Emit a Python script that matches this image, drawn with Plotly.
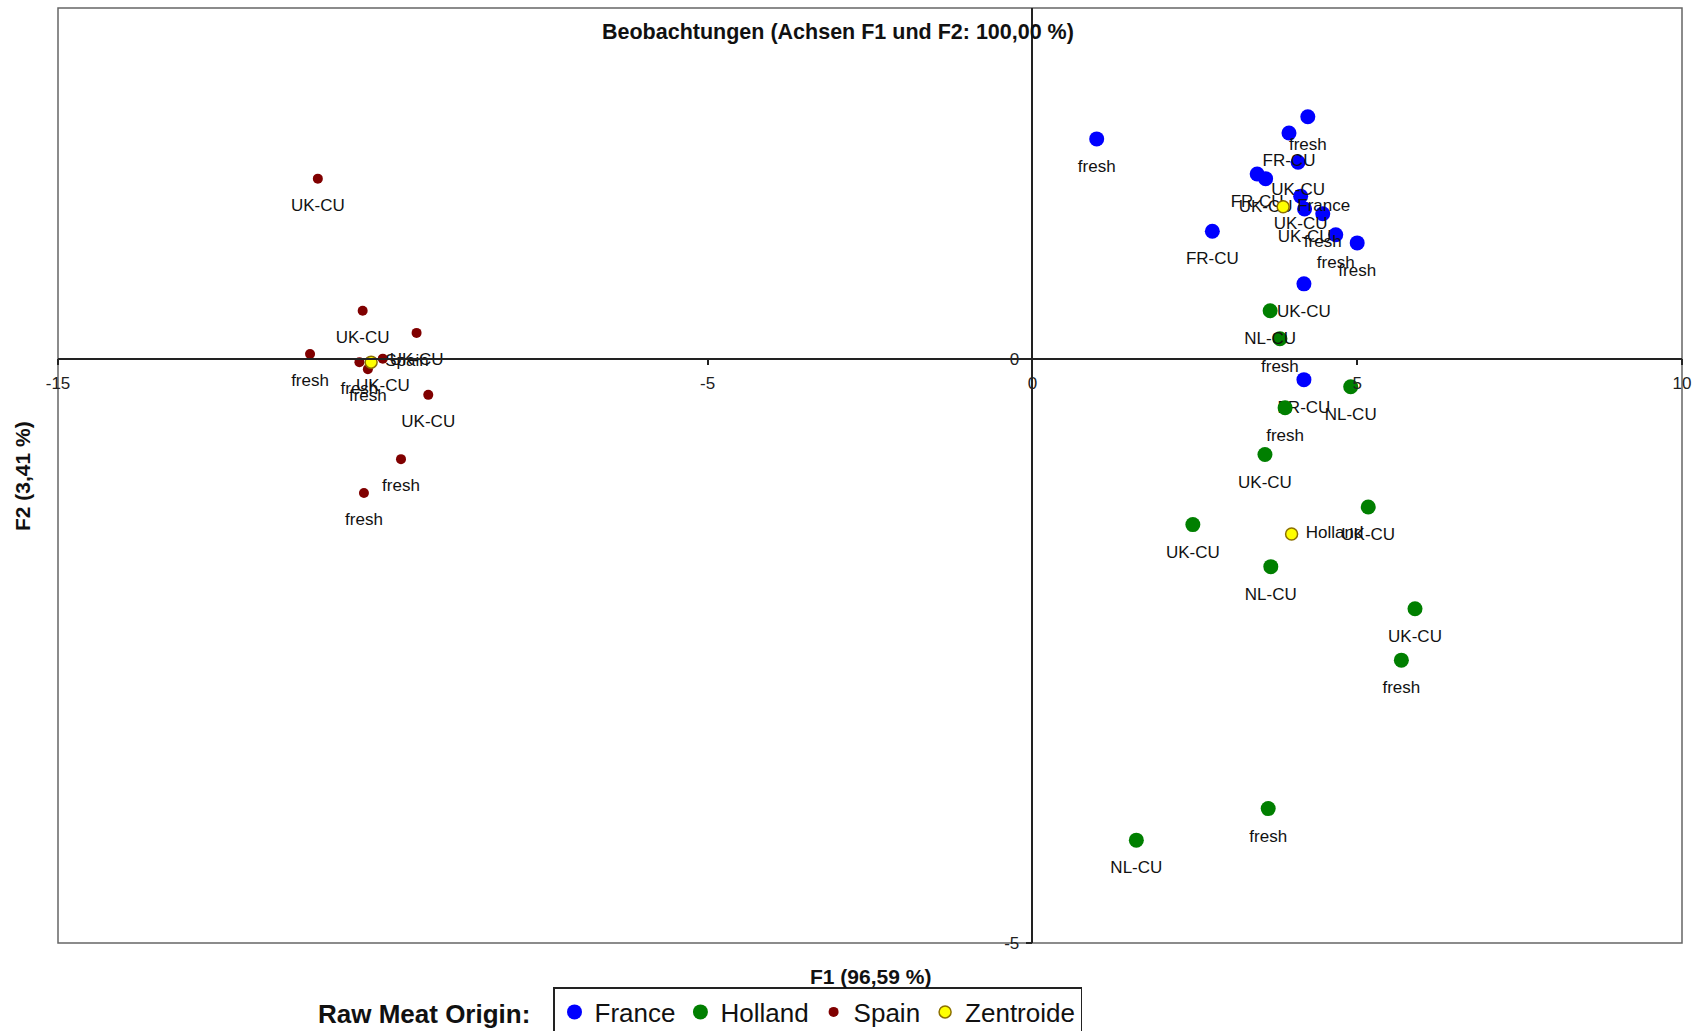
import plotly.graph_objects as go

# F1 / F2 scores of the observations, grouped by raw meat origin
france_f1 = [0.99, 4.24, 3.95, 4.09, 3.46, 3.59, 4.13, 4.19, 4.47, 4.67, 5.00, 2.77, 4.18, 4.18]
france_f2 = [1.88, 2.07, 1.93, 1.68, 1.58, 1.54, 1.39, 1.28, 1.24, 1.06, 0.99, 1.09, 0.64, -0.18]
france_lab = ["fresh", "fresh", "FR-CU", "UK-CU", "FR-CU", "UK-CU", "UK-CU", "UK-CU",
              "fresh", "fresh", "fresh", "FR-CU", "UK-CU", "FR-CU"]

holland_f1 = [3.66, 3.81, 4.90, 3.89, 3.58, 5.17, 2.47, 3.67, 5.89, 5.68, 3.63, 1.60]
holland_f2 = [0.41, 0.17, -0.24, -0.42, -0.82, -1.27, -1.42, -1.78, -2.14, -2.58, -3.85, -4.12]
holland_lab = ["NL-CU", "fresh", "NL-CU", "fresh", "UK-CU", "UK-CU", "UK-CU", "NL-CU",
               "UK-CU", "fresh", "fresh", "NL-CU"]

spain_f1 = [-11.00, -10.31, -9.48, -11.12, -10.36, -10.23, -10.00, -9.30, -9.72, -10.29]
spain_f2 = [1.54, 0.41, 0.22, 0.04, -0.03, -0.09, 0.00, -0.31, -0.86, -1.15]
spain_lab = ["UK-CU", "UK-CU", "UK-CU", "fresh", "fresh", "fresh", "UK-CU", "UK-CU",
             "fresh", "fresh"]

# group centroids
centroid_f1 = [3.86, 3.99, -10.18]
centroid_f2 = [1.30, -1.50, -0.03]
centroid_lab = ["France", "Holland", "Spain"]

x_tick_vals = [-15, -5, 0, 5, 10]
x_tick_text = ["-15", "-5", "0", "5", "10"]
y_tick_vals = [-5, 0]
y_tick_text = ["-5", "0"]

X_RANGE = [-15, 10]
Y_RANGE = [-5, 3]

FONT = "Liberation Sans, Arial, Helvetica, sans-serif"
INK = "#111111"
label_font = dict(family=FONT, size=17, color=INK)

# layout geometry (pixels)
W, H = 1695, 1031
M_L, M_R, M_T, M_B = 58, 13, 8, 0
PLOT_BOTTOM = 943
paper_h = H - M_T - M_B
paper_w = W - M_L - M_R


def py(px_from_top):
    """paper y fraction for a pixel row"""
    return (H - M_B - px_from_top) / paper_h


def px(px_from_left):
    """paper x fraction for a pixel column"""
    return (px_from_left - M_L) / paper_w


y_dom_lo = py(PLOT_BOTTOM)
plot_top = M_T
# where the value 0 falls along each axis, as paper fractions (crossing axes)
zero_y_px = plot_top + (PLOT_BOTTOM - plot_top) * (Y_RANGE[1] - 0) / (Y_RANGE[1] - Y_RANGE[0])
x_axis_pos = py(zero_y_px)
y_axis_pos = (0 - X_RANGE[0]) / (X_RANGE[1] - X_RANGE[0])

fig = go.Figure()


def group(name, xs, ys, labels, color, size, pos, pad_size):
    # visible markers (legend entry)
    fig.add_trace(go.Scatter(
        x=xs, y=ys, name=name, mode="markers",
        marker=dict(color=color, size=size, line=dict(width=0)),
        hoverinfo="skip", cliponaxis=False,
    ))
    # point labels, spaced from the points by an invisible marker
    fig.add_trace(go.Scatter(
        x=xs, y=ys, text=labels, mode="markers+text", textposition=pos,
        textfont=label_font, showlegend=False, hoverinfo="skip",
        marker=dict(size=pad_size, opacity=0), cliponaxis=False,
    ))


group("France", france_f1, france_f2, france_lab, "#0000FF", 15, "bottom center", 31)
group("Holland", holland_f1, holland_f2, holland_lab, "#007F00", 15, "bottom center", 31)
group("Spain", spain_f1, spain_f2, spain_lab, "#800000", 10, "bottom center", 29)

fig.add_trace(go.Scatter(
    x=centroid_f1, y=centroid_f2, name="Zentroide", mode="markers",
    marker=dict(color="#FFFF00", size=12, line=dict(color="#8C7000", width=1.5)),
    hoverinfo="skip", cliponaxis=False,
))
fig.add_trace(go.Scatter(
    x=centroid_f1, y=centroid_f2, text=centroid_lab, mode="markers+text",
    textposition="middle right", textfont=label_font, showlegend=False,
    hoverinfo="skip", marker=dict(size=21, opacity=0), cliponaxis=False,
))

axis_common = dict(
    showgrid=False, zeroline=False, showline=True,
    linecolor="#222222", linewidth=1.5,
    ticks="outside", ticklen=6, tickcolor="#222222", tickwidth=1.5,
    tickfont=dict(family=FONT, size=17, color="#222222"),
    ticklabelstandoff=3,
    anchor="free",
)

fig.update_layout(
    width=W, height=H,
    margin=dict(l=M_L, r=M_R, t=M_T, b=M_B, autoexpand=False),
    paper_bgcolor="white", plot_bgcolor="white",
    font=dict(family=FONT, color=INK),
    xaxis=dict(range=X_RANGE, tickvals=x_tick_vals, ticktext=x_tick_text,
               position=x_axis_pos, **axis_common),
    yaxis=dict(range=Y_RANGE, tickvals=y_tick_vals, ticktext=y_tick_text,
               position=y_axis_pos, domain=[y_dom_lo, 1], **axis_common),
    showlegend=True,
    legend=dict(
        orientation="h", x=px(553), xanchor="left", y=py(987), yanchor="top",
        bordercolor="#222222", borderwidth=1.5, bgcolor="white",
        font=dict(family=FONT, size=26, color=INK),
        itemsizing="trace", tracegroupgap=0, itemwidth=30,
    ),
    shapes=[dict(type="rect", xref="x domain", yref="y domain", x0=0, x1=1, y0=0, y1=1,
                 line=dict(color="#666666", width=1.5), layer="below")],
    annotations=[
        dict(text="<b>Beobachtungen (Achsen F1 und F2: 100,00 %)</b>",
             xref="paper", yref="paper", x=px(838), y=py(32), showarrow=False,
             xanchor="center", yanchor="middle",
             font=dict(family=FONT, size=21.5, color=INK)),
        dict(text="<b>F1 (96,59 %)</b>", xref="paper", yref="paper",
             x=0.5, y=py(976), showarrow=False, xanchor="center", yanchor="middle",
             font=dict(family=FONT, size=21, color=INK)),
        dict(text="<b>F2 (3,41 %)</b>", xref="paper", yref="paper",
             x=px(22), y=py(476), showarrow=False, textangle=-90,
             xanchor="center", yanchor="middle",
             font=dict(family=FONT, size=21, color=INK)),
        dict(text="<b>Raw Meat Origin:</b>", xref="paper", yref="paper",
             x=px(424), y=py(1014), showarrow=False, xanchor="center", yanchor="middle",
             font=dict(family=FONT, size=26, color=INK)),
    ],
)

fig.write_html("out.html")
